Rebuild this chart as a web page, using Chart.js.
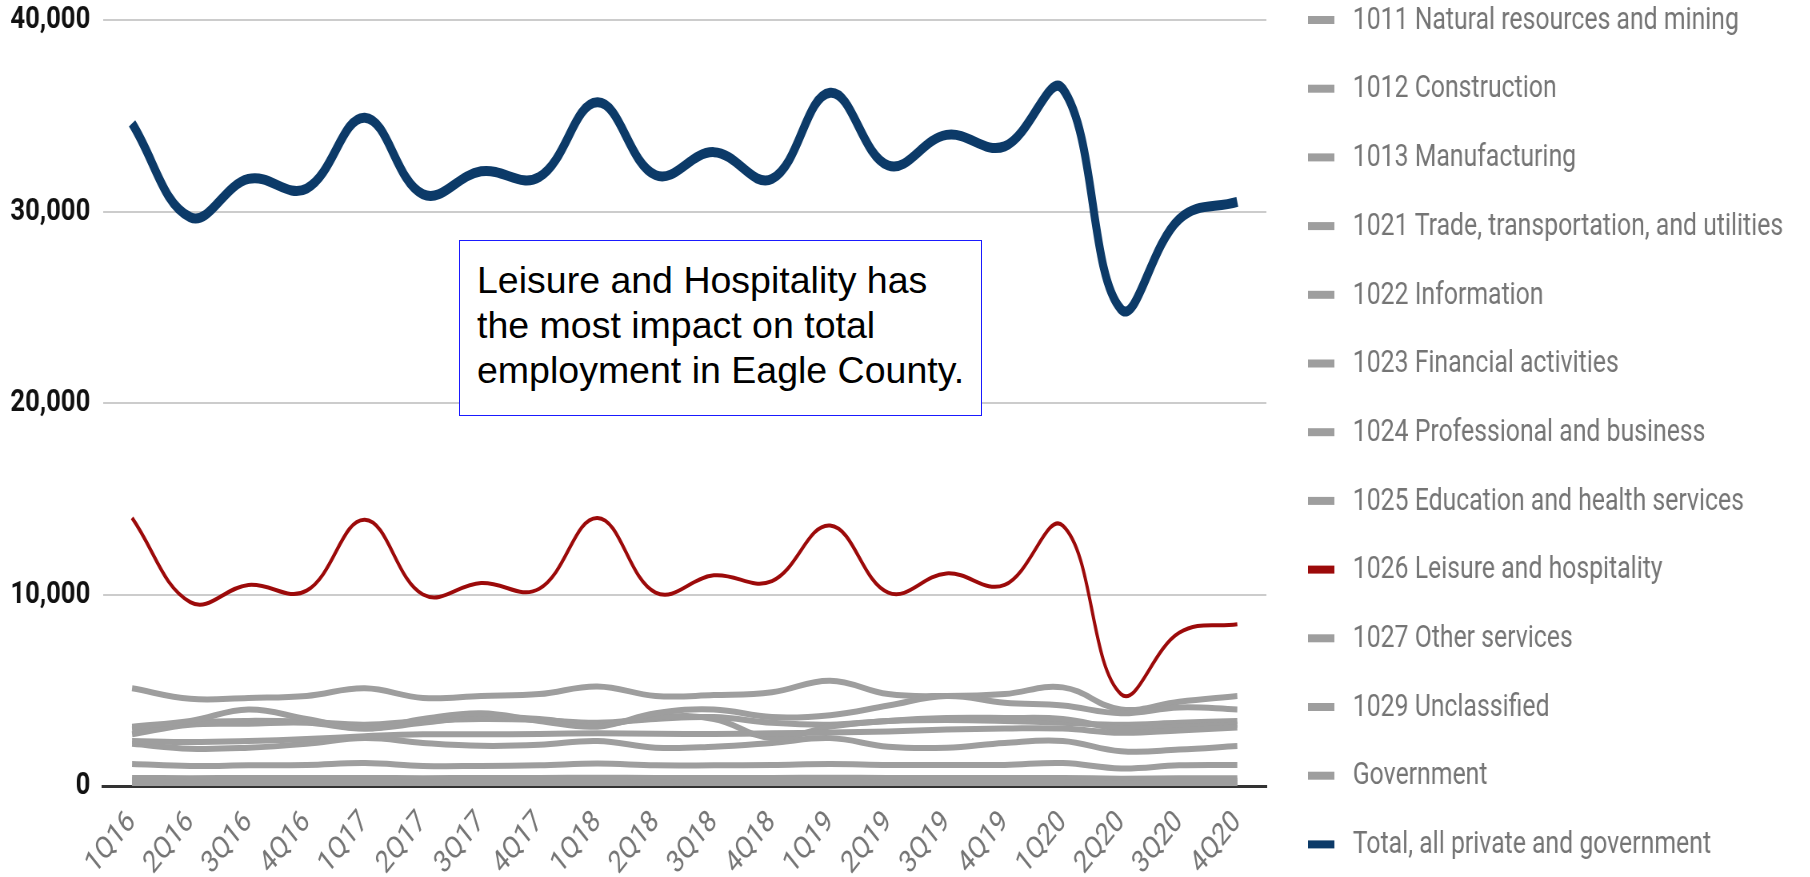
<!DOCTYPE html>
<html>
<head>
<meta charset="utf-8">
<title>Eagle County employment by industry</title>
<script src="https://cdn.jsdelivr.net/npm/chart.js@4.4.1/dist/chart.umd.min.js"></script>
<style>
  html, body { margin: 0; padding: 0; background: #fff; overflow: hidden; }
  /* the source chart is a bit squeezed sideways, so draw wide and squeeze */
  #wrap { position: absolute; left: 0; top: 0; width: 2263px; height: 877px; transform: scaleX(0.8); transform-origin: 0 0; }
  #note {
    position: absolute; left: 459px; top: 240px; width: 523px; height: 176px;
    box-sizing: border-box; border: 1.5px solid #1a1aff; background: #fff;
    padding: 17px 0 0 17px;
    font-family: "Liberation Sans", Arial, sans-serif; font-size: 37.5px; line-height: 45px; color: #000;
  }
</style>
</head>
<body>
<div id="wrap"><canvas id="chart" width="2263" height="877"></canvas></div>
<div id="note">Leisure and Hospitality has<br>the most impact on total<br>employment in Eagle County.</div>
<script>
/* ===== Employment by industry, Eagle County ===== */
const quarters = ['1Q16','2Q16','3Q16','4Q16','1Q17','2Q17','3Q17','4Q17','1Q18','2Q18',
                  '3Q18','4Q18','1Q19','2Q19','3Q19','4Q19','1Q20','2Q20','3Q20','4Q20'];

const naturalResources = [170,160,170,170,170,160,170,170,170,160,170,170,170,160,170,170,170,150,160,160];
const construction     = [3100,3400,4000,3500,3000,3500,3800,3400,3100,3800,4000,3600,3700,4200,4700,4350,4200,3800,4100,4000];
const manufacturing    = [420,410,420,420,420,410,420,420,430,420,420,420,430,420,420,420,420,380,400,410];
const trade            = [5100,4550,4600,4700,5100,4600,4700,4800,5200,4700,4750,4900,5500,4800,4700,4800,5150,4000,4400,4700];
const information      = [300,290,290,290,300,290,290,290,300,290,290,290,290,280,280,280,290,260,270,270];
const financial        = [2350,2300,2350,2450,2600,2700,2700,2720,2750,2730,2720,2750,2800,2850,2950,3000,3000,2780,2900,3050];
const professional     = [2700,3200,3250,3300,3000,3300,3600,3500,3200,3600,3500,2500,3100,3400,3550,3550,3500,3000,3100,3200];
const education        = [2200,1950,2000,2200,2500,2250,2100,2150,2350,2000,2050,2250,2500,2050,2000,2250,2350,1820,1900,2090];
const leisure          = [14000,9600,10500,10200,13900,10000,10600,10300,14000,10100,11000,10700,13600,10100,11100,10500,13600,4800,8000,8450];
const otherServices    = [1150,1050,1080,1100,1200,1050,1050,1080,1170,1080,1080,1100,1150,1100,1100,1100,1200,920,1080,1100];
const unclassified     = [30,30,30,30,30,30,30,30,30,30,30,30,30,30,30,30,30,30,30,30];
const government       = [2950,3300,3400,3350,3200,3400,3500,3450,3300,3500,3600,3300,3200,3400,3450,3400,3300,3200,3300,3400];
const total            = [34600,29700,31700,31200,34900,30900,32100,31800,35700,31900,33100,31700,36200,32400,34000,33400,36400,24900,29600,30500];

const yTicks = [0, 10000, 20000, 30000, 40000];

const GRAY = '#9e9e9e', RED = '#9c0a0a', NAVY = '#0c3a68';

const series = [
  { label: '1011 Natural resources and mining', data: naturalResources, color: GRAY },
  { label: '1012 Construction', data: construction, color: GRAY },
  { label: '1013 Manufacturing', data: manufacturing, color: GRAY },
  { label: '1021 Trade, transportation, and utilities', data: trade, color: GRAY },
  { label: '1022 Information', data: information, color: GRAY },
  { label: '1023 Financial activities', data: financial, color: GRAY },
  { label: '1024 Professional and business', data: professional, color: GRAY },
  { label: '1025 Education and health services', data: education, color: GRAY },
  { label: '1026 Leisure and hospitality', data: leisure, color: RED, width: 4, order: -1 },
  { label: '1027 Other services', data: otherServices, color: GRAY },
  { label: '1029 Unclassified', data: unclassified, color: GRAY },
  { label: 'Government', data: government, color: GRAY },
  { label: 'Total, all private and government', data: total, color: NAVY, width: 10, order: -2 }
];

// legend down the right side, spaced like the source
const sideLegend = {
  id: 'sideLegend',
  afterDraw(chart) {
    const ctx = chart.ctx;
    ctx.save();
    ctx.font = '31px Roboto';
    ctx.textBaseline = 'middle';
    chart.data.datasets.forEach((ds, i) => {
      const y = 20 + i * 68.7;
      ctx.fillStyle = ds.borderColor;
      ctx.fillRect(1635, y - 4, 33, 8);
      ctx.fillStyle = '#757575';
      ctx.fillText(ds.label, 1691, y + 1);
    });
    ctx.restore();
  }
};

new Chart(document.getElementById('chart'), {
  type: 'line',
  data: {
    labels: quarters,
    datasets: series.map(s => ({
      label: s.label,
      data: s.data,
      borderColor: s.color,
      backgroundColor: s.color,
      borderWidth: s.width || 6,
      order: s.order || 0,
      pointRadius: 0,
      tension: 0.4,
      fill: false
    }))
  },
  options: {
    responsive: false,
    animation: false,
    devicePixelRatio: 1,
    layout: { padding: { top: 20, right: 680, left: 0, bottom: 0 } },
    plugins: { legend: { display: false }, tooltip: { enabled: false } },
    scales: {
      x: {
        offset: true,
        grid: { display: false, drawTicks: false },
        border: { color: '#333', width: 3 },
        ticks: {
          color: '#757575', font: { family: 'Roboto', size: 31 },
          minRotation: 45, maxRotation: 45, autoSkip: false, padding: 18, labelOffset: 0
        },
        afterFit: s => { s.height = 91; }
      },
      y: {
        min: 0, max: 40000,
        afterBuildTicks: s => { s.ticks = yTicks.map(v => ({ value: v })); },
        grid: {
          drawTicks: false,
          color: c => c.tick && c.tick.value === 0 ? '#333' : '#cccccc',
          lineWidth: c => c.tick && c.tick.value === 0 ? 3 : 2
        },
        border: { display: false },
        ticks: {
          color: '#111', padding: 16,
          font: { family: 'Roboto', size: 32, weight: 'bold' },
          callback: v => v.toLocaleString('en-US')
        },
        afterFit: s => { s.width = 128.75; s.paddingTop = 0; s.paddingBottom = 0; }
      }
    }
  },
  plugins: [sideLegend]
});
</script>
</body>
</html>
